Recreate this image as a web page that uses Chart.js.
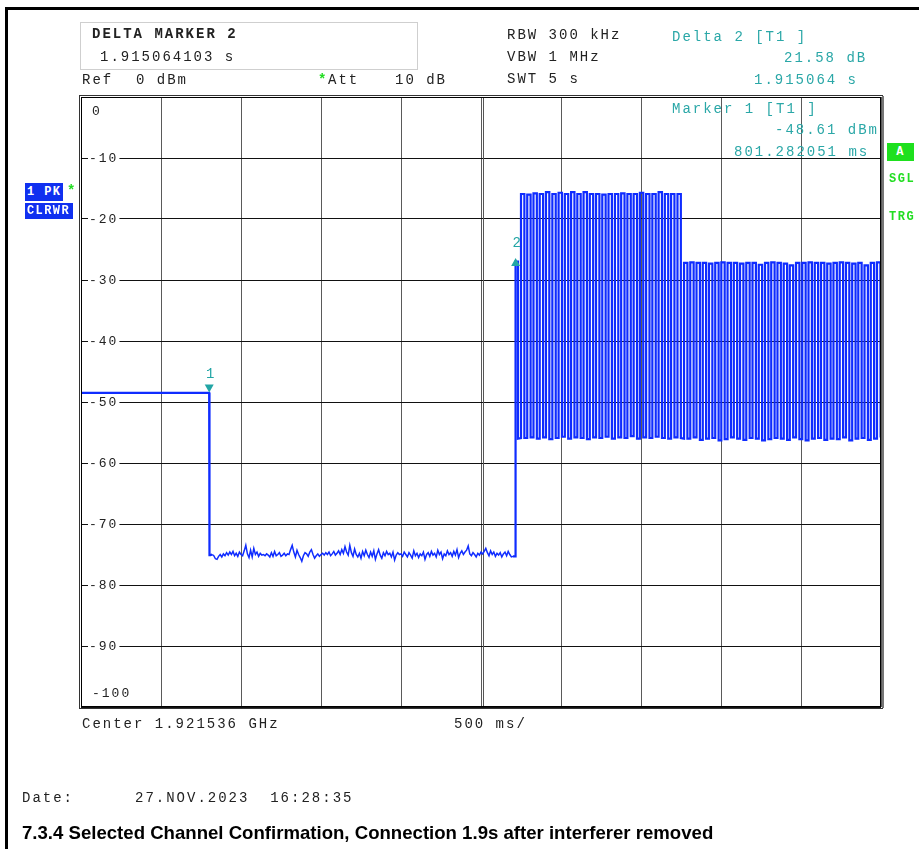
<!DOCTYPE html>
<html>
<head>
<meta charset="utf-8">
<script src="https://cdn.jsdelivr.net/npm/chart.js@4.4.1/dist/chart.umd.min.js"></script>
<style>
  html, body { margin: 0; padding: 0; background: #fff; }
  #page { position: relative; width: 919px; height: 849px; overflow: hidden; background: #fff; }
  #chart { position: absolute; left: 0; top: 0; }
  .t { position: absolute; font-family: "Liberation Mono", "Courier New", monospace; font-size: 14px;
       line-height: 16px; letter-spacing: 2px; white-space: pre; color: #222; }
  .b { font-weight: bold; }
  .teal { color: #2aa7a7; }
  .green { color: #22dd22; font-weight: bold; }
  .tag { position: absolute; background: #1030f0; color: #fff; font-family: "Liberation Mono", monospace;
         font-weight: bold; font-size: 12px; line-height: 16px; letter-spacing: 1.4px; padding-left: 2px; white-space: pre; }
  .title { position: absolute; left: 22px; top: 822px; font-family: "Liberation Sans", Arial, sans-serif;
           font-weight: bold; font-size: 18.6px; line-height: 22px; color: #000; white-space: pre; }
</style>
</head>
<body>
<div id="page">
  <canvas id="chart" width="919" height="849"></canvas>

  <div style="position:absolute;left:5px;top:7px;width:3px;height:842px;background:#000"></div>
  <div style="position:absolute;left:5px;top:7px;width:914px;height:3px;background:#000"></div>
  <div style="position:absolute;left:80px;top:22px;width:336px;height:46px;border:1px solid #cfcfcf"></div>

  <div class="t b" style="left:92px;top:26px">DELTA MARKER 2</div>
  <div class="t" style="left:100px;top:49px">1.915064103 s</div>
  <div class="t" style="left:82px;top:72px">Ref</div>
  <div class="t" style="left:136px;top:72px">0 dBm</div>
  <div class="t green" style="left:318px;top:72px">*</div>
  <div class="t" style="left:328px;top:72px">Att</div>
  <div class="t" style="left:395px;top:72px">10 dB</div>

  <div class="t" style="left:507px;top:27px">RBW 300 kHz</div>
  <div class="t" style="left:507px;top:49px">VBW 1 MHz</div>
  <div class="t" style="left:507px;top:71px">SWT 5 s</div>

  <div class="t teal" style="left:672px;top:29px">Delta 2 [T1 ]</div>
  <div class="t teal" style="left:784px;top:50px">21.58 dB</div>
  <div class="t teal" style="left:754px;top:72px">1.915064 s</div>

  <div class="t teal" style="left:672px;top:101px">Marker 1 [T1 ]</div>
  <div class="t teal" style="left:775px;top:122px">-48.61 dBm</div>
  <div class="t teal" style="left:734px;top:144px">801.282051 ms</div>

  <div class="tag" style="left:25px;top:183px;width:36px;height:18px;line-height:18px">1 PK</div>
  <div class="t green" style="left:67px;top:183px">*</div>
  <div class="tag" style="left:25px;top:203px;width:46px;height:16px">CLRWR</div>

  <div class="tag" style="left:887px;top:143px;width:27px;height:18px;line-height:18px;background:#1ee01e;text-align:center;padding:0">A</div>
  <div class="t green" style="left:889px;top:171px;font-size:12px;letter-spacing:1.5px">SGL</div>
  <div class="t green" style="left:889px;top:209px;font-size:12px;letter-spacing:1.5px">TRG</div>

  <div class="t" style="left:82px;top:716px">Center 1.921536 GHz</div>
  <div class="t" style="left:454px;top:716px">500 ms/</div>

  <div class="t" style="left:22px;top:790px">Date:</div>
  <div class="t" style="left:135px;top:790px">27.NOV.2023  16:28:35</div>

  <div class="title">7.3.4 Selected Channel Confirmation, Connection 1.9s after interferer removed</div>
</div>

<script>
// sweep: 0..5 s, level in dBm
const yTicks = [0, -10, -20, -30, -40, -50, -60, -70, -80, -90, -100];

// reference level before the drop, then the drop to the noise floor
const leadTimes = [0, 0.801, 0.803];
const leadLevels = [-48.5, -48.5, -75.1];

// noise floor, one reading every 10 ms from 0.81 s
const noiseStart = 0.81;
const noiseStep = 0.01;
const noiseLevels = [
  -75.1, -75.0, -75.2, -75.7, -75.8, -75.3, -75.0, -75.4, -74.9, -75.2,
  -74.7, -75.1, -74.6, -75.0, -74.5, -75.2, -74.8, -75.3, -74.6, -75.0,
  -75.2, -74.4, -73.5, -74.9, -75.5, -74.3, -75.4, -74.0, -75.0, -74.6,
  -75.3, -74.8, -75.1, -75.0, -75.2, -74.9, -75.1, -75.4, -74.7, -75.3,
  -74.5, -75.2, -75.0, -74.7, -75.3, -75.1, -74.8, -75.2, -74.9, -75.0,
  -74.2, -73.5, -74.6, -75.4, -74.3, -75.0, -75.5, -76.1, -75.2, -74.7,
  -74.9, -75.3, -74.6, -74.2, -75.0, -75.6, -75.2, -74.9, -75.3, -75.0,
  -74.8, -75.1, -74.7, -75.0, -74.6, -75.2, -74.9, -74.5, -75.1, -74.8,
  -74.4, -75.0, -74.2, -74.8, -73.7, -74.6, -75.1, -73.5, -74.7, -75.3,
  -74.1, -75.0, -75.4, -74.8, -75.6, -74.5, -75.2, -74.3, -75.0, -75.5,
  -74.6, -75.3, -74.4, -75.8, -74.9, -74.2, -75.1, -75.6, -74.7, -75.2,
  -74.5, -75.0, -74.8, -75.4, -74.6, -75.9, -75.1, -74.7, -75.0, -74.9,
  -75.3, -74.6, -75.0, -75.4, -74.7, -75.1, -75.6, -74.4, -75.2, -74.8,
  -75.5, -74.9, -75.2, -74.6, -75.8, -75.0, -74.7, -75.3, -74.5, -75.1,
  -74.8, -75.4, -74.3, -75.0, -74.6, -75.7, -74.9, -75.2, -74.4, -75.0,
  -74.7, -75.3, -74.5, -75.1, -74.2, -75.5, -74.8, -74.4, -75.0, -74.6,
  -74.3, -73.6, -74.9, -75.2, -74.7, -75.0, -75.4, -74.8, -75.1, -74.6,
  -74.9, -74.5, -74.0, -74.7, -75.2, -74.4, -75.0, -74.6, -75.3, -74.8,
  -75.1, -74.7, -75.4, -74.9, -74.6, -75.2, -74.5, -75.0, -75.4, -75.3
];

// connection: first frame at -27 dBm, then the burst train
const switchTimes = [2.714, 2.716, 2.731, 2.731];
const switchLevels = [-75.3, -27.0, -27.0, -56.0];

// burst train 1 (strong), rising edges and levels
const burst1Rise = [2.750, 2.789, 2.828, 2.867, 2.906, 2.946, 2.985, 3.024, 3.063, 3.102, 3.141, 3.180, 3.219,
  3.258, 3.297, 3.337, 3.376, 3.415, 3.454, 3.493, 3.532, 3.571, 3.610, 3.649, 3.688, 3.728];
const burst1Top = [-15.9, -16.0, -15.8, -15.9, -15.6, -15.9, -15.7, -15.9, -15.6, -15.9, -15.6, -15.9, -15.9,
  -16.0, -15.9, -15.9, -15.8, -15.9, -15.9, -15.7, -15.9, -15.9, -15.6, -15.9, -15.9, -15.9];
const burst1Floor = [-55.9, -55.8, -56.0, -55.8, -56.1, -55.9, -55.7, -56.0, -55.8, -55.9, -56.1, -55.8, -55.9,
  -55.7, -56.0, -55.8, -55.9, -55.6, -56.0, -55.8, -55.9, -55.7, -55.9, -56.0, -55.8, -55.9];

// burst train 2 (after power step down)
const burst2Rise = [3.769, 3.808, 3.847, 3.886, 3.925, 3.964, 4.002, 4.041, 4.080, 4.119, 4.158, 4.197, 4.236,
  4.275, 4.314, 4.353, 4.392, 4.430, 4.469, 4.508, 4.547, 4.586, 4.625, 4.664, 4.703, 4.742, 4.781, 4.820,
  4.858, 4.897, 4.936, 4.975];
const burst2Top = [-27.2, -27.1, -27.2, -27.2, -27.3, -27.2, -27.1, -27.2, -27.2, -27.3, -27.2, -27.2, -27.5,
  -27.2, -27.1, -27.2, -27.3, -27.6, -27.2, -27.2, -27.1, -27.2, -27.2, -27.3, -27.2, -27.1, -27.2, -27.3,
  -27.2, -27.6, -27.2, -27.1];
const burst2Floor = [-56.0, -55.8, -56.2, -56.0, -55.9, -56.3, -56.1, -55.8, -56.0, -56.2, -55.9, -56.0, -56.3,
  -56.1, -55.9, -56.0, -56.2, -55.8, -56.1, -56.3, -56.0, -55.9, -56.2, -56.0, -56.1, -55.8, -56.3, -56.0,
  -55.9, -56.2, -56.0, -55.8];
const burstHigh = 0.021; // seconds each burst stays up

const tailTimes = [4.999, 5.0];
const tailLevels = [-27.2, -27.2];

// markers: 1 = reference, 2 = delta marker
const markerNames = ["1", "2"];
const markerTimes = [0.801282, 2.716346];
const markerLevels = [-48.61, -27.03];

const trace = [];
leadTimes.forEach((t, i) => trace.push({ x: t, y: leadLevels[i] }));
noiseLevels.forEach((v, i) => trace.push({ x: noiseStart + i * noiseStep, y: v }));
switchTimes.forEach((t, i) => trace.push({ x: t, y: switchLevels[i] }));
function addBursts(rise, top, floor) {
  rise.forEach((t, i) => {
    const prevFloor = i === 0 ? floor[0] : floor[i - 1];
    trace.push({ x: t, y: prevFloor });
    trace.push({ x: t, y: top[i] });
    trace.push({ x: t + burstHigh, y: top[i] });
    trace.push({ x: t + burstHigh, y: floor[i] });
  });
}
addBursts(burst1Rise, burst1Top, burst1Floor);
addBursts(burst2Rise, burst2Top, burst2Floor);
tailTimes.forEach((t, i) => trace.push({ x: t, y: tailLevels[i] }));

const TEAL = "#22a5a5";

const overlay = {
  id: "overlay",
  beforeDatasetsDraw(chart) {
    const { ctx, chartArea: a, scales: { x, y } } = chart;
    ctx.save();
    // double centre line
    const cx = x.getPixelForValue(2.5) + 2;
    ctx.strokeStyle = "#555";
    ctx.lineWidth = 1;
    ctx.beginPath(); ctx.moveTo(cx + 0.5, a.top); ctx.lineTo(cx + 0.5, a.bottom); ctx.stroke();
    // level labels inside the grid
    ctx.font = "13px 'Liberation Mono', monospace";
    ctx.letterSpacing = "2px";
    ctx.textBaseline = "middle";
    yTicks.forEach(v => {
      let py = y.getPixelForValue(v);
      if (v === 0) py += 14;
      if (v === -100) py -= 14;
      const txt = String(v);
      const w = ctx.measureText(txt).width;
      if (v !== 0 && v !== -100) {
        ctx.fillStyle = "#fff";
        ctx.fillRect(a.left + 7, py - 6, w + 2, 12);
      }
      ctx.fillStyle = "#222";
      ctx.fillText(txt, a.left + (v === 0 || v === -100 ? 11 : 8), py + 1);
    });
    ctx.restore();
  },
  afterDraw(chart) {
    const { ctx, chartArea: a, scales: { x, y } } = chart;
    ctx.save();
    // double frame
    ctx.strokeStyle = "#000";
    ctx.lineWidth = 1;
    ctx.strokeRect(a.left + 0.5, a.top + 0.5, a.width - 1, a.height - 1);
    ctx.strokeStyle = "#333";
    ctx.strokeRect(a.left - 1.5, a.top - 1.5, a.width + 3, a.height + 3);
    ctx.fillStyle = "#777";
    ctx.fillRect(a.right + 1, a.top - 1, 2, a.height + 2);
    // markers
    ctx.fillStyle = TEAL;
    ctx.font = "14px 'Liberation Mono', monospace";
    ctx.textAlign = "center";
    ctx.textBaseline = "middle";
    markerTimes.forEach((t, i) => {
      const px = x.getPixelForValue(t);
      const py = y.getPixelForValue(markerLevels[i]);
      ctx.beginPath();
      if (i === 0) {
        ctx.moveTo(px - 4.5, py - 9); ctx.lineTo(px + 4.5, py - 9); ctx.lineTo(px, py - 1);
      } else {
        ctx.moveTo(px - 4.5, py + 4); ctx.lineTo(px + 4.5, py + 4); ctx.lineTo(px, py - 4);
      }
      ctx.closePath();
      ctx.fill();
      ctx.fillText(markerNames[i], px + 1, py - 19);
    });
    ctx.restore();
  }
};

new Chart(document.getElementById("chart"), {
  type: "line",
  data: {
    datasets: [{
      data: trace,
      borderColor: "#0f2cff",
      borderWidth: 2.2,
      segment: {
        // thinner stroke on the noise floor, heavier on the bursts
        borderWidth: c => (c.p0.parsed.x > 0.81 && c.p1.parsed.x < 2.712 ? 1.5 : 2.2)
      },
      pointRadius: 0,
      tension: 0,
      fill: false
    }]
  },
  options: {
    responsive: false,
    animation: false,
    devicePixelRatio: 1,
    layout: { padding: { left: 81, top: 97, right: 38, bottom: 142 } },
    plugins: { legend: { display: false }, tooltip: { enabled: false } },
    scales: {
      x: {
        type: "linear", min: 0, max: 5,
        ticks: { display: false, stepSize: 0.5 },
        grid: { color: "#5a5a5a", lineWidth: 1, drawTicks: false },
        border: { display: false },
        afterFit: s => { s.height = 0; }
      },
      y: {
        type: "linear", min: -100, max: 0,
        ticks: { display: false, stepSize: 10 },
        grid: { color: "#111", lineWidth: 1, drawTicks: false },
        border: { display: false },
        afterFit: s => { s.width = 0; }
      }
    }
  },
  plugins: [overlay]
});
</script>
</body>
</html>
